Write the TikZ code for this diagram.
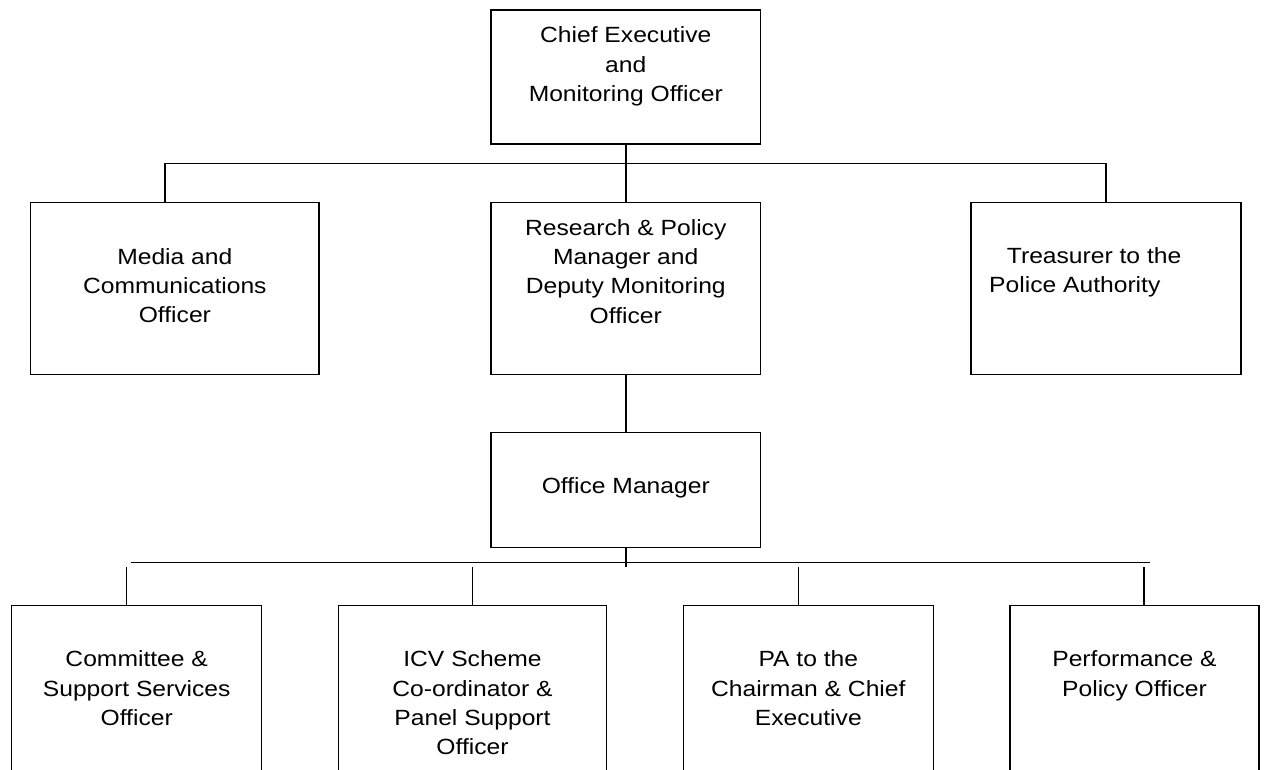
\documentclass[tikz,border=0pt]{standalone}
\usepackage{fontspec}
\setmainfont{Liberation Sans}[FakeStretch=1.12]
% invisible strut fixing the height of the first text line
\newcommand{\firstln}{\rule{0pt}{18pt}}
\begin{document}
\begin{tikzpicture}[x=1pt,y=-1pt,
  box/.style={draw, line width=1.5pt, inner sep=0pt, outer sep=0pt, rectangle},
  txt/.style={inner sep=0pt, align=center, font=\fontsize{22}{29.3}\selectfont},
  link/.style={line width=1.5pt}]
\useasboundingbox (0,0) rectangle (1266,769);
\fill[white] (0,0) rectangle (1266,769);
\clip (0,0) rectangle (1266,769);

% boxes
\node[box, minimum width=269.5pt, minimum height=134pt] (chief) at (625.75,77) {};
\node[box, minimum width=288.3pt, minimum height=172pt] (media) at (174.85,288.3) {};
\node[box, minimum width=269.5pt, minimum height=172pt] (research) at (625.75,288.3) {};
\node[box, minimum width=270pt, minimum height=172pt] (treas) at (1106,288.3) {};
\node[box, minimum width=269.5pt, minimum height=114.8pt] (office) at (625.75,490.1) {};
\node[box, minimum width=250pt, minimum height=184.7pt] (comm) at (136.7,697.65) {};
\node[box, minimum width=268.4pt, minimum height=184.7pt] (icv) at (472.5,697.65) {};
\node[box, minimum width=250pt, minimum height=184.7pt] (pa) at (808.3,697.65) {};
\node[box, minimum width=249pt, minimum height=184.7pt] (perf) at (1134.5,697.65) {};

% texts
\node[txt, below=14.7pt] (chief-t) at (chief.north) {\firstln Chief Executive\\and\\Monitoring Officer};
\node[txt, below=14.7pt] (research-t) at (research.north) {\firstln Research \& Policy\\Manager and\\Deputy Monitoring\\Officer};
\node[txt, below=43.5pt] (media-t) at (media.north) {\firstln Media and\\Communications\\Officer};
\node[txt, align=left, anchor=north west] (treas-t) at ([xshift=18pt,yshift=-43pt]treas.north west)
  {\firstln\hspace*{17.7pt}Treasurer to the\\Police Authority};
\node[txt, below=42.6pt] (office-t) at (office.north) {\firstln Office Manager};
\node[txt, below=43.4pt] (comm-t) at (comm.north) {\firstln Committee \&\\Support Services\\Officer};
\node[txt, below=43.4pt] (icv-t) at (icv.north) {\firstln ICV Scheme\\Co-ordinator \&\\Panel Support\\Officer};
\node[txt, below=43.4pt] (pa-t) at (pa.north) {\firstln PA to the\\Chairman \& Chief\\Executive};
\node[txt, below=43.4pt] (perf-t) at (perf.north) {\firstln Performance \&\\Policy Officer};

% upper level connectors
\coordinate (busA) at (625.75,163.5);
\draw[link] (chief.south) -- (research.north);
\draw[link] ([xshift=-9.85pt]media.north) |- (busA) -| (treas.north);
\draw[link] (research.south) -- (office.north);

% lower level connectors
\coordinate (busB-l) at (130.7,562.3);
\coordinate (busB-r) at (1150,562.3);
\coordinate (busB) at (625.75,567);
\draw[link] (busB-l) -- (busB-r);
\draw[link] (office.south) -- (busB);
\draw[link] ([xshift=-10pt]comm.north) -- ++(0,-38.6);
\draw[link] (icv.north) -- ++(0,-38.6);
\draw[link] ([xshift=-9.6pt]pa.north) -- ++(0,-38.6);
\draw[link] ([xshift=9.5pt]perf.north) -- ++(0,-38.6);
\end{tikzpicture}
\end{document}
